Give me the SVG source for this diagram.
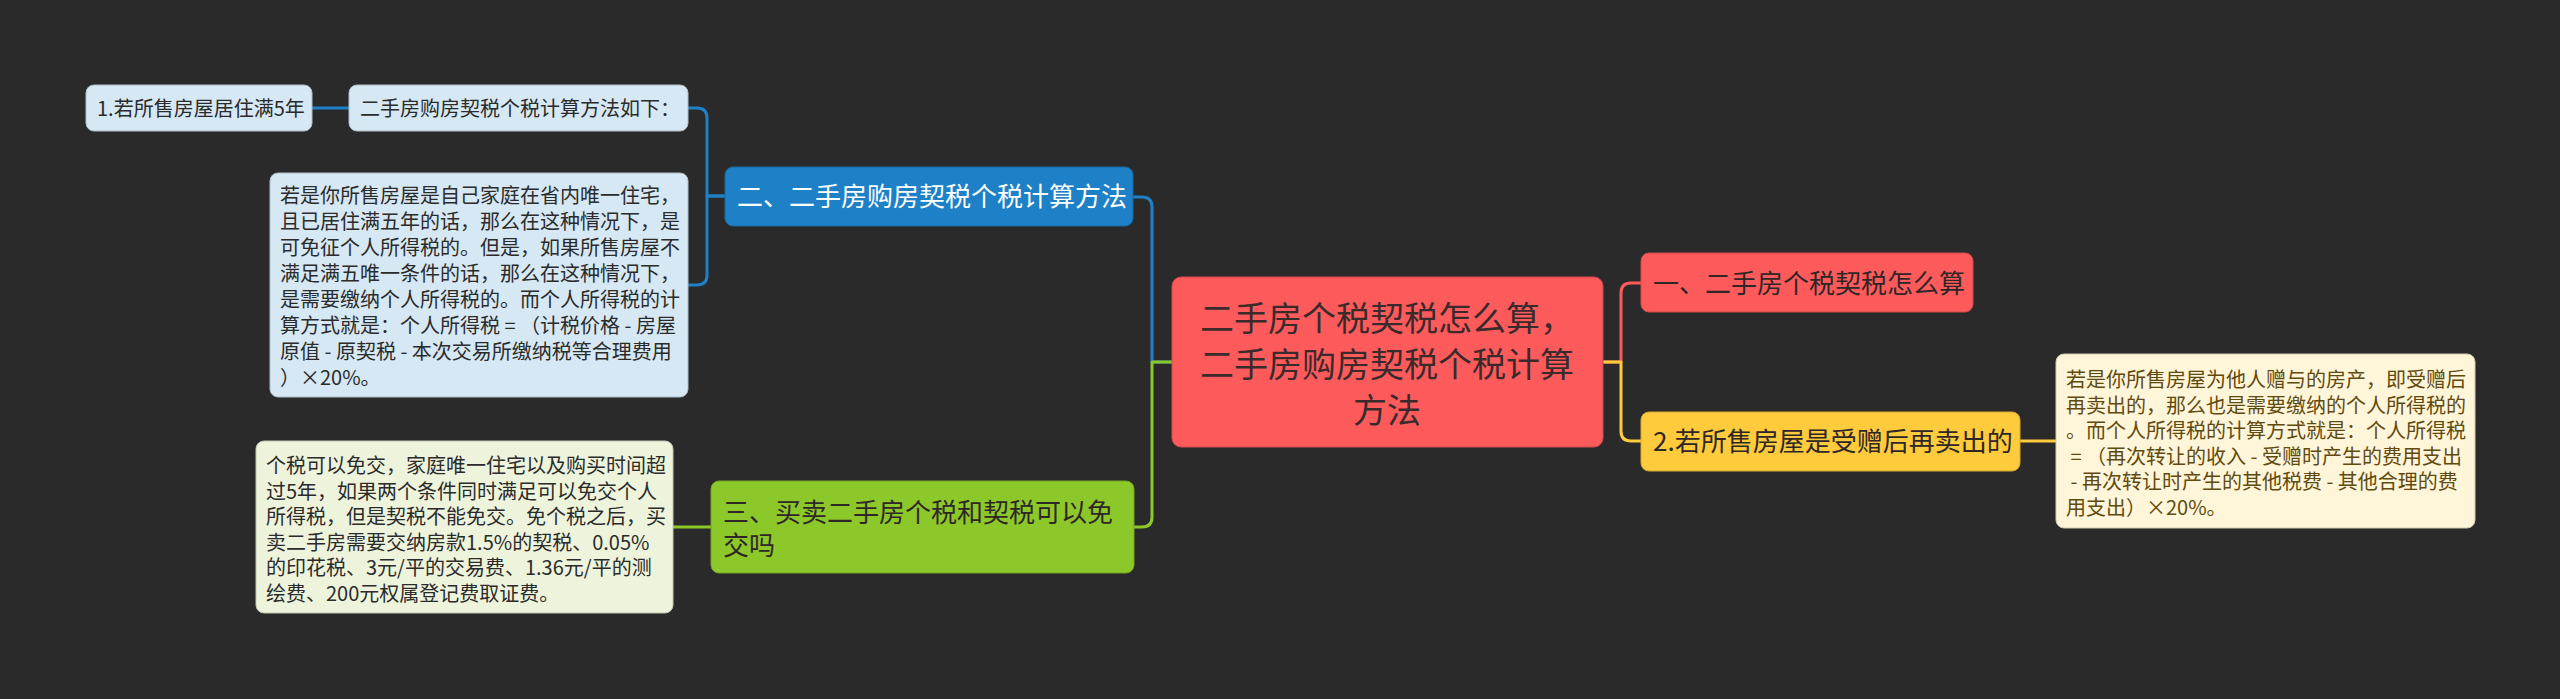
<svg xmlns="http://www.w3.org/2000/svg" width="2560" height="699" viewBox="0 0 2560 699" xml:space="preserve">
<style>
text{font-family:"Noto Sans CJK SC","Noto Sans",sans-serif;white-space:pre;}
.c{fill:none;stroke-width:3;stroke-linecap:round;stroke-linejoin:round;}
.bg{fill:#2a2a2a;}
.red{fill:#fd5a5c;stroke:#d24a4c;stroke-width:1;}
.yel{fill:#fdcb3c;stroke:#d4a92e;stroke-width:1;}
.blu{fill:#1e80c6;stroke:#1869a3;stroke-width:1;}
.grn{fill:#8dc82b;stroke:#74a522;stroke-width:1;}
.lblu{fill:#d5e8f4;stroke:#aebfcc;stroke-width:1;}
.lgrn{fill:#eef4dc;stroke:#c2c8b2;stroke-width:1;}
.lyel{fill:#fff5d8;stroke:#d2c9ad;stroke-width:1;}
.t34{font-size:34px;fill:#3a2a2b;text-anchor:middle;}
.t26{font-size:26px;}
.t20{font-size:20px;}
.dk{fill:#2f2626;}
.wh{fill:#ffffff;}
.pb{fill:#2b2b2b;}
.br{fill:#614a10;}
</style>
<rect class="bg" x="0" y="0" width="2560" height="699"/>
<g id="connectors">
<path class="c" stroke="#fd5a5c" d="M1603 362 H1621 V293 Q1621 283 1631 283 H1641"/>
<path class="c" stroke="#fdcb3c" d="M1603 362 H1621 V431 Q1621 441 1631 441 H1641"/>
<path class="c" stroke="#fdcb3c" d="M2020 441 H2056"/>
<path class="c" stroke="#1e80c6" d="M1172 362 H1152 V207 Q1152 197 1142 197 H1133"/>
<path class="c" stroke="#8dc82b" d="M1172 362 H1152 V517 Q1152 527 1142 527 H1134"/>
<path class="c" stroke="#1e80c6" d="M725 196 H707 V118 Q707 108 697 108 H688"/>
<path class="c" stroke="#1e80c6" d="M725 196 H707 V275 Q707 285 697 285 H688"/>
<path class="c" stroke="#1e80c6" d="M349 108 H312"/>
<path class="c" stroke="#8dc82b" d="M711 527 H673"/>
</g>
<g id="root">
<rect class="red" x="1172" y="277" width="431" height="170" rx="9"/>
<text class="t34" x="1387" y="331">二手房个税契税怎么算，</text>
<text class="t34" x="1387" y="377">二手房购房契税个税计算</text>
<text class="t34" x="1387" y="423">方法</text>
</g>
<g id="n1">
<rect class="red" x="1641" y="253" width="332" height="59" rx="8"/>
<text class="t26 dk" x="1653" y="293">一、二手房个税契税怎么算</text>
</g>
<g id="n1-2">
<rect class="yel" x="1641" y="412" width="379" height="59" rx="8"/>
<text class="t26 dk" x="1653" y="451">2.若所售房屋是受赠后再卖出的</text>
</g>
<g id="n1-2-1">
<rect class="lyel" x="2056" y="354" width="419" height="174" rx="8"/>
<text class="t20 br" x="2066" y="387">若是你所售房屋为他人赠与的房产，即受赠后</text>
<text class="t20 br" x="2066" y="412.6">再卖出的，那么也是需要缴纳的个人所得税的</text>
<text class="t20 br" x="2066" y="438.2">。而个人所得税的计算方式就是：个人所得税</text>
<text class="t20 br" x="2066" y="463.8"> = （再次转让的收入 - 受赠时产生的费用支出</text>
<text class="t20 br" x="2066" y="489.4"> - 再次转让时产生的其他税费 - 其他合理的费</text>
<text class="t20 br" x="2066" y="515">用支出）×20%。</text>
</g>
<g id="n2">
<rect class="blu" x="725" y="167" width="408" height="59" rx="8"/>
<text class="t26 wh" x="737" y="206">二、二手房购房契税个税计算方法</text>
</g>
<g id="n2-1">
<rect class="lblu" x="349" y="85" width="339" height="46" rx="8"/>
<text class="t20 pb" x="360" y="116">二手房购房契税个税计算方法如下：</text>
</g>
<g id="n2-1-1">
<rect class="lblu" x="86" y="85" width="226" height="46" rx="8"/>
<text class="t20 pb" x="97" y="116">1.若所售房屋居住满5年</text>
</g>
<g id="n2-2">
<rect class="lblu" x="270" y="173" width="418" height="224" rx="8"/>
<text class="t20 pb" x="280" y="203">若是你所售房屋是自己家庭在省内唯一住宅，</text>
<text class="t20 pb" x="280" y="229">且已居住满五年的话，那么在这种情况下，是</text>
<text class="t20 pb" x="280" y="255">可免征个人所得税的。但是，如果所售房屋不</text>
<text class="t20 pb" x="280" y="281">满足满五唯一条件的话，那么在这种情况下，</text>
<text class="t20 pb" x="280" y="307">是需要缴纳个人所得税的。而个人所得税的计</text>
<text class="t20 pb" x="280" y="333">算方式就是：个人所得税 = （计税价格 - 房屋</text>
<text class="t20 pb" x="280" y="359">原值 - 原契税 - 本次交易所缴纳税等合理费用</text>
<text class="t20 pb" x="280" y="385">）×20%。</text>
</g>
<g id="n3">
<rect class="grn" x="711" y="481" width="423" height="92" rx="8"/>
<text class="t26 dk" x="723" y="522">三、买卖二手房个税和契税可以免</text>
<text class="t26 dk" x="723" y="555">交吗</text>
</g>
<g id="n3-1">
<rect class="lgrn" x="256" y="441" width="417" height="172" rx="8"/>
<text class="t20 pb" x="266" y="473">个税可以免交，家庭唯一住宅以及购买时间超</text>
<text class="t20 pb" x="266" y="498.6">过5年，如果两个条件同时满足可以免交个人</text>
<text class="t20 pb" x="266" y="524.2">所得税，但是契税不能免交。免个税之后，买</text>
<text class="t20 pb" x="266" y="549.8">卖二手房需要交纳房款1.5%的契税、0.05%</text>
<text class="t20 pb" x="266" y="575.4">的印花税、3元/平的交易费、1.36元/平的测</text>
<text class="t20 pb" x="266" y="601">绘费、200元权属登记费取证费。</text>
</g>
</svg>
